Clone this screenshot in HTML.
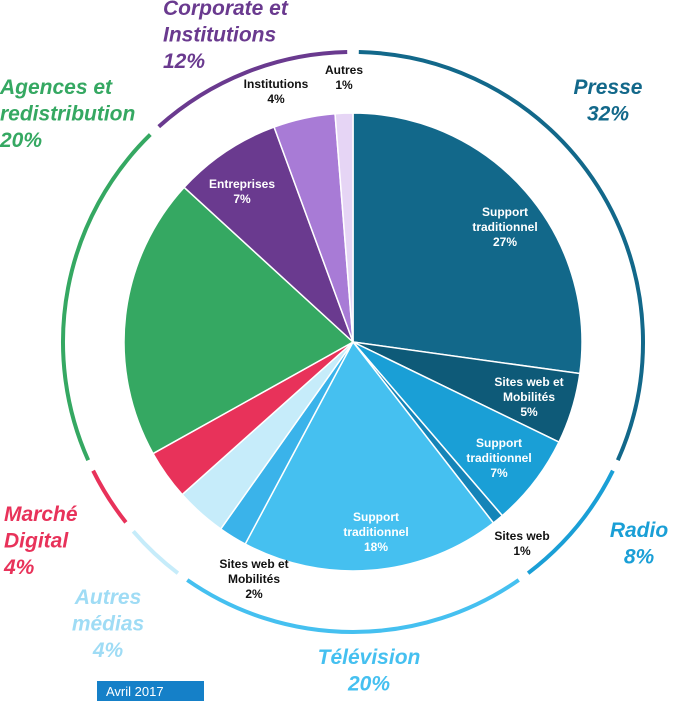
<!DOCTYPE html>
<html><head><meta charset="utf-8"><style>
body{margin:0;background:#fff;width:680px;height:704px;overflow:hidden;font-family:"Liberation Sans",sans-serif}
svg text{font-family:"Liberation Sans",sans-serif}
</style></head><body>
<svg id="chart" width="680" height="704" viewBox="0 0 680 704" xmlns="http://www.w3.org/2000/svg">
<g id="slices"></g>
<g id="ring"></g>
<g id="labels"></g>
<rect x="97" y="681" width="107" height="20" fill="#1580c8"/>
<text x="106" y="696" fill="#fff" font-size="13">Avril 2017</text>
</svg>
<script>
const sliceNames=["Support traditionnel","Sites web et Mobilités","Support traditionnel","Sites web","Support traditionnel","Sites web et Mobilités","Autres médias","Marché Digital","Agences","Entreprises","Institutions","Autres"];
const sliceValues=[27.2,5,6.5,0.8,18.3,2,3.6,3.5,19.9,7.6,4.35,1.25];
const sliceColors=["#12688a","#0e5a78","#1a9fd6","#1484b8","#45c0f0","#3ab3ea","#c6ecfa","#e8325a","#35a862","#6a3a8f","#a87bd6","#e6d5f5"];
const groupNames=["Presse","Radio","Télévision","Autres médias","Marché Digital","Agences et redistribution","Corporate et Institutions"];
const groupValues=[32,8,20,4,4,20,12];
const groupColors=["#12688a","#1a9fd6","#45c0f0","#c6ecfa","#e8325a","#35a862","#6a3a8f"];
const NS="http://www.w3.org/2000/svg";
const cx=353,cy=342,R=229,RR=290;
function pt(a,r){return [cx+r*Math.sin(a),cy-r*Math.cos(a)];}
function ang(v,tot){return v/tot*2*Math.PI;}
const sTot=sliceValues.reduce((a,b)=>a+b,0);
let acc=0;
const sg=document.getElementById('slices');
sliceValues.forEach((v,i)=>{
 const a0=ang(acc,sTot),a1=ang(acc+v,sTot);acc+=v;
 const p0=pt(a0,R),p1=pt(a1,R);
 const el=document.createElementNS(NS,'path');
 el.setAttribute('d',`M${cx},${cy}L${p0[0]},${p0[1]}A${R},${R} 0 ${a1-a0>Math.PI?1:0} 1 ${p1[0]},${p1[1]}Z`);
 el.setAttribute('fill',sliceColors[i]);el.setAttribute('stroke','#fff');el.setAttribute('stroke-width','1.5');
 
 
 sg.appendChild(el);
});
const gTot=groupValues.reduce((a,b)=>a+b,0);
acc=0;
const rg=document.getElementById('ring');
const gap=0.04;
groupValues.forEach((v,i)=>{
 const a0=ang(acc,gTot)+gap/2,a1=ang(acc+v,gTot)-gap/2;acc+=v;
 const p0=pt(a0,RR),p1=pt(a1,RR);
 const el=document.createElementNS(NS,'path');
 el.setAttribute('d',`M${p0[0]},${p0[1]}A${RR},${RR} 0 ${a1-a0>Math.PI?1:0} 1 ${p1[0]},${p1[1]}`);
 el.setAttribute('fill','none');el.setAttribute('stroke',groupColors[i]);el.setAttribute('stroke-width','4');
 
 
 rg.appendChild(el);
});
const lg=document.getElementById('labels');
function label(lines,x,y,opt){
 const t=document.createElementNS(NS,'text');
 t.setAttribute('x',x);t.setAttribute('y',y);
 t.setAttribute('text-anchor',opt.anchor||'middle');
 t.setAttribute('font-size',opt.size);t.setAttribute('font-weight','bold');
 if(opt.italic)t.setAttribute('font-style','italic');
 t.setAttribute('fill',opt.color);
 
 
 lines.forEach((l,k)=>{const s=document.createElementNS(NS,'tspan');s.setAttribute('x',x);if(k)s.setAttribute('dy',opt.lh);s.textContent=l;t.appendChild(s);});
 lg.appendChild(t);
}
const small=[["Support","traditionnel","27%",505,216,"#fff"],["Sites web et","Mobilités","5%",529,386,"#fff"],["Support","traditionnel","7%",499,447,"#fff"],["Sites web","1%",null,522,540,"#111"],["Support","traditionnel","18%",376,521,"#fff"],["Sites web et","Mobilités","2%",254,568,"#111"],["Entreprises","7%",null,242,188,"#fff"],["Institutions","4%",null,276,88,"#111"],["Autres","1%",null,344,74,"#111"]];
small.forEach((s,i)=>{const lines=s.slice(0,3).filter(x=>x);label(lines,s[3],s[4],{size:12,color:s[5],lh:15,name:'slice-label-'+i});});
const big=[[["Presse","32%"],608,94,"middle","#12688a"],[["Radio","8%"],639,537,"middle","#1a9fd6"],[["Télévision","20%"],369,664,"middle","#45c0f0"],[["Autres","médias","4%"],108,604,"middle","#9fdcf5"],[["Marché","Digital","4%"],4,521,"start","#e8325a"],[["Agences et","redistribution","20%"],0,94,"start","#35a862"],[["Corporate et","Institutions","12%"],163,15,"start","#6a3a8f"]];
big.forEach((b,i)=>label(b[0],b[1],b[2],{size:21,italic:true,anchor:b[3],color:b[4],lh:26.5,name:'group-label-'+i}));
</script>
</body></html>
